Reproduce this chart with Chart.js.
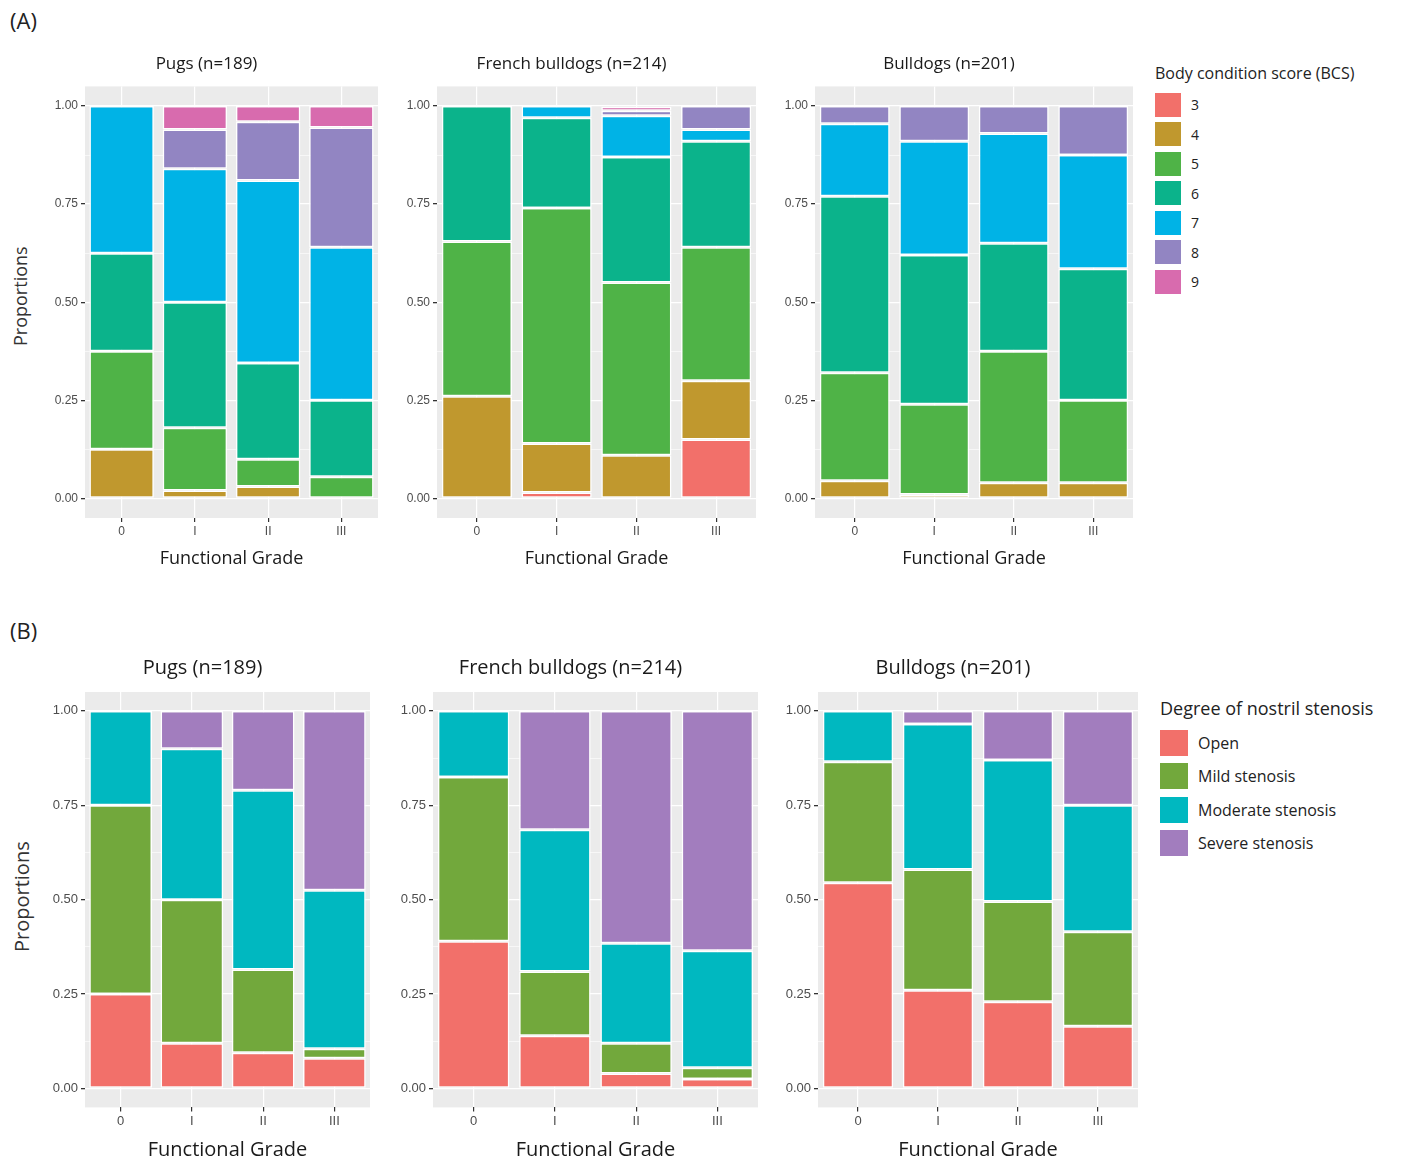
<!DOCTYPE html>
<html lang="en">
<head>
<meta charset="UTF-8" />
<title>BCS and nostril stenosis by functional grade</title>
<script src="https://cdn.jsdelivr.net/npm/chart.js"></script>
<style>
  body { margin: 0; background: #fff; font-family: "Open Sans", "DejaVu Sans", sans-serif; }
  #page { position: relative; width: 1413px; height: 1166px; }
  .panel { position: absolute; }
  .tag { position: absolute; font-size: 22px; color: #222; }
  .ytitle { position: absolute; transform: rotate(-90deg); transform-origin: left top; color: #333; }
  .legend { position: absolute; color: #222; }
  .legend .row { display: flex; align-items: center; }
  .legend .sw { display: inline-block; margin-right: 10px; }
</style>
</head>
<body>
<div id="page">
  <div class="tag" style="left:10px;top:5px">(A)</div>
  <div class="tag" style="left:10px;top:615px">(B)</div>
  <div class="ytitle" style="left:8px;top:346px;font-size:18px">Proportions</div>
  <div class="ytitle" style="left:8px;top:952px;font-size:20px">Proportions</div>

  <div class="panel" style="left:35px;top:44px"><canvas id="a1" width="345" height="530"></canvas></div>
  <div class="panel" style="left:387px;top:44px"><canvas id="a2" width="371" height="530"></canvas></div>
  <div class="panel" style="left:765px;top:44px"><canvas id="a3" width="370" height="530"></canvas></div>

  <div class="panel" style="left:35px;top:646px"><canvas id="b1" width="337" height="520"></canvas></div>
  <div class="panel" style="left:383px;top:646px"><canvas id="b2" width="377" height="520"></canvas></div>
  <div class="panel" style="left:768px;top:646px"><canvas id="b3" width="372" height="520"></canvas></div>

  <div class="legend" id="legA" style="left:1155px;top:62px;font-size:16px"></div>
  <div class="legend" id="legB" style="left:1160px;top:696px;font-size:18px"></div>
</div>

<script>
// categories
const grades = ['0', 'I', 'II', 'III'];
const bcsScores = ['3', '4', '5', '6', '7', '8', '9'];
const stenosis = ['Open', 'Mild stenosis', 'Moderate stenosis', 'Severe stenosis'];
const yTicks = [0, 0.125, 0.25, 0.375, 0.5, 0.625, 0.75, 0.875, 1];

// proportions per BCS score (rows 3..9), per grade 0..III
const pugsBCS = [
  [0, 0, 0, 0],
  [0.125, 0.02, 0.03, 0],
  [0.25, 0.16, 0.07, 0.055],
  [0.25, 0.32, 0.245, 0.195],
  [0.375, 0.34, 0.465, 0.39],
  [0, 0.10, 0.15, 0.305],
  [0, 0.06, 0.04, 0.055]
];
const frenchBCS = [
  [0, 0.015, 0, 0.15],
  [0.26, 0.125, 0.11, 0.15],
  [0.395, 0.60, 0.44, 0.34],
  [0.345, 0.23, 0.32, 0.27],
  [0, 0.03, 0.105, 0.03],
  [0, 0, 0.013, 0.06],
  [0, 0, 0.01, 0]
];
const bulldogBCS = [
  [0, 0, 0, 0],
  [0.045, 0.01, 0.04, 0.04],
  [0.275, 0.23, 0.335, 0.21],
  [0.45, 0.38, 0.275, 0.335],
  [0.185, 0.29, 0.28, 0.29],
  [0.045, 0.09, 0.07, 0.125],
  [0, 0, 0, 0]
];

// proportions per stenosis degree (Open, Mild, Moderate, Severe)
const pugsNostril = [
  [0.25, 0.12, 0.095, 0.08],
  [0.5, 0.38, 0.22, 0.025],
  [0.25, 0.4, 0.475, 0.42],
  [0, 0.1, 0.21, 0.475]
];
const frenchNostril = [
  [0.39, 0.14, 0.04, 0.025],
  [0.435, 0.17, 0.08, 0.03],
  [0.175, 0.375, 0.265, 0.31],
  [0, 0.315, 0.615, 0.635]
];
const bulldogNostril = [
  [0.545, 0.26, 0.23, 0.165],
  [0.32, 0.32, 0.265, 0.25],
  [0.135, 0.385, 0.375, 0.335],
  [0, 0.035, 0.13, 0.25]
];

const bcsColors = ['#F2706A', '#C0982E', '#4FB347', '#0BB38B', '#00B3E6', '#9285C2', '#D86BAE'];
const nostrilColors = ['#F2706A', '#72A83C', '#00B8C0', '#A27DBE'];

const greyPanel = {
  id: 'greyPanel',
  beforeDraw(chart) {
    const a = chart.chartArea, c = chart.ctx;
    c.save();
    c.fillStyle = '#EBEBEB';
    c.fillRect(a.left, a.top, a.right - a.left, a.bottom - a.top);
    c.restore();
  }
};

function makePanel(id, title, rows, names, colors, sizes) {
  const datasets = rows.map((r, i) => ({
    label: names[i],
    data: r.map(v => v === 0 ? null : v),
    backgroundColor: colors[i],
    borderColor: '#fff',
    borderWidth: 1.5,
    borderSkipped: false,
    barPercentage: 0.88,
    categoryPercentage: 1
  }));
  new Chart(document.getElementById(id), {
    type: 'bar',
    data: { labels: grades, datasets },
    plugins: [greyPanel],
    options: {
      responsive: false,
      animation: false,
      layout: { padding: { right: 2 } },
      plugins: {
        legend: { display: false },
        tooltip: { enabled: false },
        title: {
          display: true, text: title, color: '#1a1a1a',
          font: { size: sizes.title, family: 'Open Sans', weight: 'normal' },
          padding: { top: 10, bottom: 12 }
        }
      },
      scales: {
        x: {
          stacked: true,
          grid: { color: '#fff', lineWidth: 1.2, offset: false, drawTicks: true, tickColor: '#333', tickLength: 4 },
          border: { display: false },
          ticks: { color: '#4d4d4d', font: { size: sizes.tick }, padding: 2 },
          title: { display: true, text: 'Functional Grade', color: '#1a1a1a', font: { size: sizes.axis, family: 'Open Sans' }, padding: { top: sizes.axisPad } }
        },
        y: {
          stacked: true, min: -0.05, max: 1.05,
          afterFit(s) { s.width = 50; },
          afterBuildTicks(s) { s.ticks = yTicks.map(v => ({ value: v })); },
          grid: {
            color: '#fff',
            lineWidth: c => (c.index % 2 ? 0.6 : 1.3),
            tickColor: c => (c.index % 2 ? 'rgba(0,0,0,0)' : '#333'),
            tickLength: 4
          },
          border: { display: false },
          ticks: {
            color: '#4d4d4d', font: { size: sizes.tick }, padding: 3,
            callback: (v, i) => (i % 2 ? '' : Number(v).toFixed(2))
          }
        }
      }
    }
  });
}

const sizeA = { title: 17, axis: 18, tick: 12, axisPad: 8 };
const sizeB = { title: 20, axis: 20, tick: 13, axisPad: 7 };
makePanel('a1', 'Pugs (n=189)', pugsBCS, bcsScores, bcsColors, sizeA);
makePanel('a2', 'French bulldogs (n=214)', frenchBCS, bcsScores, bcsColors, sizeA);
makePanel('a3', 'Bulldogs (n=201)', bulldogBCS, bcsScores, bcsColors, sizeA);
makePanel('b1', 'Pugs (n=189)', pugsNostril, stenosis, nostrilColors, sizeB);
makePanel('b2', 'French bulldogs (n=214)', frenchNostril, stenosis, nostrilColors, sizeB);
makePanel('b3', 'Bulldogs (n=201)', bulldogNostril, stenosis, nostrilColors, sizeB);

function legend(elId, title, names, colors, sw, gap, fs) {
  const el = document.getElementById(elId);
  let html = '<div style="margin-bottom:6px">' + title + '</div>';
  names.forEach((n, i) => {
    html += '<div class="row" style="height:' + gap + 'px"><span class="sw" style="width:' + sw +
      'px;height:' + (sw - 2) + 'px;background:' + colors[i] + '"></span><span style="font-size:' + fs + 'px">' + n + '</span></div>';
  });
  el.innerHTML = html;
}
legend('legA', 'Body condition score (BCS)', bcsScores, bcsColors, 26, 29.5, 14);
legend('legB', 'Degree of nostril stenosis', stenosis, nostrilColors, 28, 33.5, 16);
</script>
</body>
</html>
